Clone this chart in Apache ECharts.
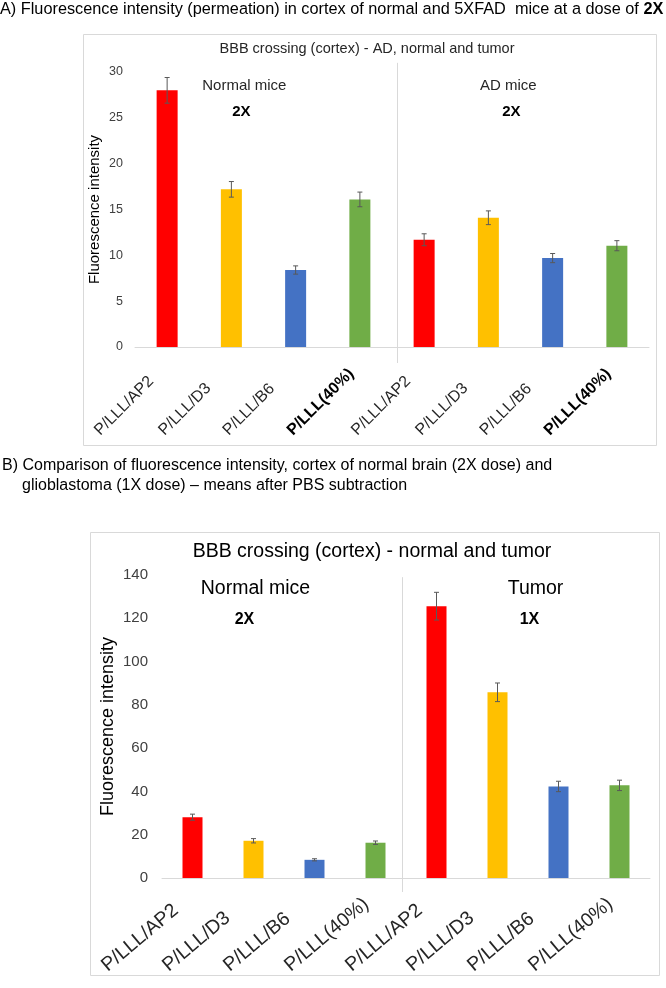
<!DOCTYPE html>
<html><head><meta charset="utf-8">
<script src="https://cdn.jsdelivr.net/npm/echarts@6/dist/echarts.min.js"></script>
<style>html,body{margin:0;padding:0;background:#fff}#c{width:666px;height:988px}</style>
</head><body><div id="c"></div>
<script>
// ---- data ----
const categories = ['P/LLL/AP2', 'P/LLL/D3', 'P/LLL/B6', 'P/LLL(40%)', 'P/LLL/AP2', 'P/LLL/D3', 'P/LLL/B6', 'P/LLL(40%)'];
const barColors = ['#FF0000', '#FFC000', '#4472C4', '#70AD47', '#FF0000', '#FFC000', '#4472C4', '#70AD47'];
const valuesA = [28.0, 17.2, 8.4, 16.1, 11.7, 14.1, 9.7, 11.05];
const errorsA = [1.4, 0.85, 0.45, 0.8, 0.65, 0.75, 0.5, 0.55];
const ticksA = [0, 5, 10, 15, 20, 25, 30];
const valuesB = [28.1, 17.2, 8.4, 16.3, 125.6, 85.8, 42.3, 42.8];
const errorsB = [1.4, 1.0, 0.5, 0.8, 6.4, 4.3, 2.4, 2.4];
const ticksB = [0, 20, 40, 60, 80, 100, 120, 140];
const groupLabelsA = ['Normal mice', 'AD mice'];
const doseLabelsA = ['2X', '2X'];
const groupLabelsB = ['Normal mice', 'Tumor'];
const doseLabelsB = ['2X', '1X'];

const FONT = '"Liberation Sans", Arial, sans-serif';
const chart = echarts.init(document.getElementById('c'), null, {renderer: 'canvas'});

function barData(vals) {
  return vals.map((v, i) => ({value: v, itemStyle: {color: barColors[i]}}));
}
function errData(vals, errs) {
  return vals.map((v, i) => [i, v, errs[i]]);
}
function errRender(params, api) {
  const x = api.value(0), v = api.value(1), e = api.value(2);
  const t = api.coord([x, v + e]);
  const b = api.coord([x, v - e]);
  const w = 2.5;
  const st = {stroke: '#595959', lineWidth: 1};
  return {type: 'group', children: [
    {type: 'line', shape: {x1: t[0], y1: t[1], x2: b[0], y2: b[1]}, style: st},
    {type: 'line', shape: {x1: t[0] - w, y1: t[1], x2: t[0] + w, y2: t[1]}, style: st},
    {type: 'line', shape: {x1: b[0] - w, y1: b[1], x2: b[0] + w, y2: b[1]}, style: st}
  ]};
}
function xAxisCfg(gi, fontSize, margin, boldLast, boxW, rot) {
  return {
    type: 'category', gridIndex: gi, data: categories,
    axisLine: {lineStyle: {color: '#d9d9d9', width: 1}},
    axisTick: {show: false},
    axisLabel: {
      interval: 0, rotate: rot, margin: margin, color: '#262626',
      fontFamily: FONT, fontSize: fontSize,
      formatter: (v, i) => (boldLast && i % 4 === 3) ? '{b|' + v + '}' : '{n|' + v + '}',
      rich: {
        n: {fontFamily: FONT, fontSize: fontSize, color: '#262626', width: boxW, align: 'left'},
        b: {fontFamily: FONT, fontSize: fontSize, color: '#000', fontWeight: 'bold', width: boxW, align: 'left'}
      }
    }
  };
}
function yAxisCfg(gi, ticks, fontSize, margin, nameSize, nameGap) {
  return {
    type: 'value', gridIndex: gi,
    min: ticks[0], max: ticks[ticks.length - 1], interval: ticks[1] - ticks[0],
    axisLine: {show: false}, axisTick: {show: false}, splitLine: {show: false},
    axisLabel: {color: '#404040', fontFamily: FONT, fontSize: fontSize, margin: margin},
    name: 'Fluorescence intensity', nameLocation: 'middle', nameGap: nameGap,
    nameMoveOverlap: false,
    nameTextStyle: {color: '#000', fontFamily: FONT, fontSize: nameSize}
  };
}

const option = {
  animation: false,
  backgroundColor: '#fff',
  title: [
    {left: 0, top: 2, padding: 0, textStyle: {fontFamily: FONT, fontSize: 16.3, fontWeight: 'normal', color: '#000',
      rich: {n: {fontFamily: FONT, fontSize: 16.3, color: '#000'}, b: {fontFamily: FONT, fontSize: 16.3, color: '#000', fontWeight: 'bold'}}},
      text: '{n|A) Fluorescence intensity (permeation) in cortex of normal and 5XFAD  mice at a dose of }{b|2X}'},
    {left: 2, top: 456, padding: 0, textStyle: {fontFamily: FONT, fontSize: 16, fontWeight: 'normal', color: '#000', lineHeight: 20},
      text: 'B) Comparison of fluorescence intensity, cortex of normal brain (2X dose) and'},
    {left: 22, top: 476, padding: 0, textStyle: {fontFamily: FONT, fontSize: 16, fontWeight: 'normal', color: '#000', lineHeight: 20},
      text: 'glioblastoma (1X dose) \u2013 means after PBS subtraction'}
  ],
  grid: [
    {left: 135, width: 514, top: 72, height: 275},
    {left: 162, width: 488, top: 575, height: 303}
  ],
  xAxis: [xAxisCfg(0, 16, 16, true, 99, 45), xAxisCfg(1, 19.5, 16, false, 115, 40)],
  yAxis: [yAxisCfg(0, ticksA, 12.5, 12, 15, 33), yAxisCfg(1, ticksB, 15, 14, 18, 45)],
  series: [
    {type: 'bar', xAxisIndex: 0, yAxisIndex: 0, barWidth: 21, data: barData(valuesA)},
    {type: 'custom', xAxisIndex: 0, yAxisIndex: 0, renderItem: errRender, data: errData(valuesA, errorsA), z: 5},
    {type: 'bar', xAxisIndex: 1, yAxisIndex: 1, barWidth: 20, data: barData(valuesB)},
    {type: 'custom', xAxisIndex: 1, yAxisIndex: 1, renderItem: errRender, data: errData(valuesB, errorsB), z: 5}
  ]
};
chart.setOption(option);

// decorations positioned through the axes
function px(gi, c, v) { return chart.convertToPixel({gridIndex: gi}, [c, v]); }
const graphics = [];
// panel frames
graphics.push({type: 'rect', shape: {x: 83.5, y: 34.5, width: 573, height: 411}, style: {fill: null, stroke: '#d9d9d9', lineWidth: 1}, z: -1});
graphics.push({type: 'rect', shape: {x: 90.5, y: 532.5, width: 569, height: 443}, style: {fill: null, stroke: '#d9d9d9', lineWidth: 1}, z: -1});

// panel A
{
  const a3 = px(0, 3, 0), a4 = px(0, 4, 0);
  const sx = a3[0] + (a4[0] - a3[0]) * 0.58;
  const top = px(0, 0, 31)[1];
  graphics.push({type: 'line', shape: {x1: Math.round(sx) + 0.5, y1: top, x2: Math.round(sx) + 0.5, y2: a3[1] + 16}, style: {stroke: '#d9d9d9', lineWidth: 1}});
  graphics.push({type: 'text', x: 367, y: 49, style: {text: 'BBB crossing (cortex) - AD, normal and tumor', font: '14.5px ' + FONT, fill: '#262626', textAlign: 'center', textVerticalAlign: 'middle'}});
  const gx = [px(0, 1, 0)[0] + 13, px(0, 5, 0)[0] + 20];
  const dx = [px(0, 1, 0)[0] + 10, px(0, 5, 0)[0] + 23];
  for (let i = 0; i < 2; i++) {
    graphics.push({type: 'text', x: gx[i], y: 86, style: {text: groupLabelsA[i], font: '15px ' + FONT, fill: '#262626', textAlign: 'center', textVerticalAlign: 'middle'}});
    graphics.push({type: 'text', x: dx[i], y: 112, style: {text: doseLabelsA[i], font: 'bold 15px ' + FONT, fill: '#000', textAlign: 'center', textVerticalAlign: 'middle'}});
  }
}
// panel B
{
  const b3 = px(1, 3, 0), b4 = px(1, 4, 0);
  const sx = b3[0] + (b4[0] - b3[0]) * 0.43;
  const top = px(1, 0, 139)[1];
  graphics.push({type: 'line', shape: {x1: Math.round(sx) + 0.5, y1: top, x2: Math.round(sx) + 0.5, y2: b3[1] + 14}, style: {stroke: '#d9d9d9', lineWidth: 1}});
  graphics.push({type: 'text', x: 372, y: 552, style: {text: 'BBB crossing (cortex) - normal and tumor', font: '19.5px ' + FONT, fill: '#000', textAlign: 'center', textVerticalAlign: 'middle'}});
  const gx = [px(1, 1, 0)[0] + 2, px(1, 6, 0)[0] - 23];
  const dx = [px(1, 0, 0)[0] + 52, px(1, 5, 0)[0] + 32];
  for (let i = 0; i < 2; i++) {
    graphics.push({type: 'text', x: gx[i], y: 589, style: {text: groupLabelsB[i], font: '19.5px ' + FONT, fill: '#000', textAlign: 'center', textVerticalAlign: 'middle'}});
    graphics.push({type: 'text', x: dx[i], y: 620, style: {text: doseLabelsB[i], font: 'bold 16px ' + FONT, fill: '#000', textAlign: 'center', textVerticalAlign: 'middle'}});
  }
}
chart.setOption({graphic: graphics});
</script>
</body></html>
